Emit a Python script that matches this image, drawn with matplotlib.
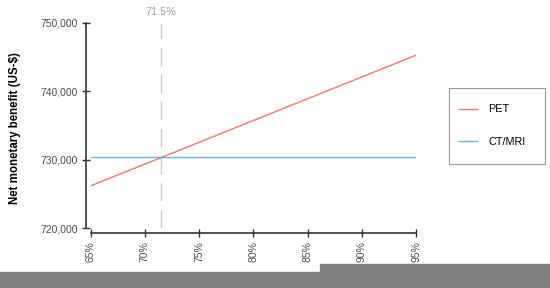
import matplotlib
matplotlib.use('Agg')
import matplotlib.pyplot as plt
from matplotlib.patches import Rectangle
from matplotlib.ticker import FuncFormatter

plt.rcParams['font.family'] = ['Liberation Sans', 'DejaVu Sans']

# share of correct PET results (%) and net monetary benefit (US-$)
sens = [65, 95]
pet = [726200, 745250]
ct_mri = [730340, 730340]
threshold = 71.5
xticks = [65, 70, 75, 80, 85, 90, 95]
yticks = [720000, 730000, 740000, 750000]

W, H = 550, 288
fig = plt.figure(figsize=(W / 100, H / 100), dpi=100)
ax = fig.add_axes([90.7 / W, 1 - 228.3 / H, (416 - 90.7) / W, (228.3 - 22.7) / H])

ax.plot(sens, pet, color='#F8766D', lw=1.0, label='PET')
ax.plot(sens, ct_mri, color='#6AAFE6', lw=1.0, label='CT/MRI')
ax.axvline(threshold, color='#C8C8C8', lw=1.0, ls=(0, (13, 6.5)), zorder=0)
ax.text(threshold, 751550, '71.5%', color='#A0A0A0', fontsize=7.8,
        ha='center', va='center', clip_on=False)

ax.set_xlim(65, 95)
ax.set_ylim(720000, 750000)
ax.set_xticks(xticks)
ax.set_yticks(yticks)
ax.xaxis.set_major_formatter(FuncFormatter(lambda v, p: '%d%%' % v))
ax.yaxis.set_major_formatter(FuncFormatter(lambda v, p: '{:,.0f}'.format(v)))
ax.tick_params(axis='both', direction='inout', length=6, width=1,
               color='#333333', labelcolor='#4D4D4D', labelsize=7.5, pad=3)
ax.tick_params(axis='x', labelrotation=90)

for s in ['top', 'right']:
    ax.spines[s].set_visible(False)
for s in ['left', 'bottom']:
    ax.spines[s].set_position(('outward', 3.4))
    ax.spines[s].set_color('#333333')
    ax.spines[s].set_linewidth(1.2)

fig.text(15 / W, 1 - 128 / H, 'Net monetary benefit (US-$)', rotation=90,
         fontsize=8.3, fontweight='bold', ha='center', va='center')

leg = fig.legend(loc='upper left', bbox_to_anchor=(454 / W, 1 - 99 / H),
                 fontsize=7.8, frameon=False, handlelength=1.65,
                 labelspacing=2.1, borderpad=0.5, handletextpad=1.0,
                 borderaxespad=0)
fig.patches.append(Rectangle((449 / W, 1 - 164 / H), 96 / W, 76 / H,
                             transform=fig.transFigure, fill=False,
                             edgecolor='#999999', lw=0.8))

# grey strips at the bottom of the image
fig.patches.append(Rectangle((0, 0), 1, (H - 272) / H, transform=fig.transFigure,
                             color='#808080', zorder=5))
fig.patches.append(Rectangle((320 / W, 0), 1, (H - 264) / H, transform=fig.transFigure,
                             color='#808080', zorder=5))

fig.savefig('out.png', dpi=100)
